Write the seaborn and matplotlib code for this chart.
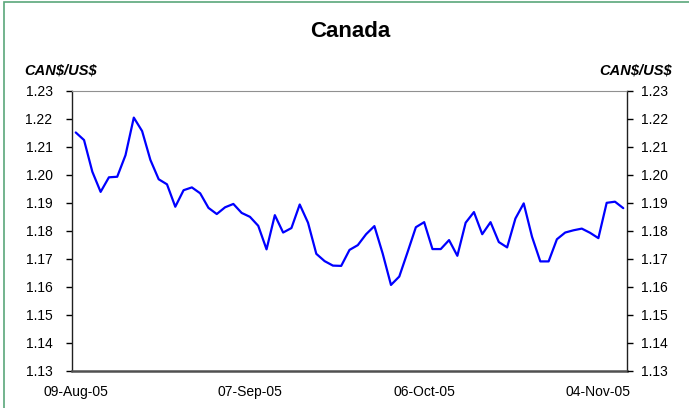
import numpy as np
import pandas as pd
import seaborn as sns
import matplotlib.pyplot as plt
from matplotlib.patches import Rectangle

# Tipo de cambio CAN$/US$, dias habiles 09-Aug-05 .. 09-Nov-05
valores = [1.2151, 1.2124, 1.2011, 1.1939, 1.1991, 1.1993, 1.2070, 1.2204, 1.2156, 1.2053,
           1.1984, 1.1966, 1.1886, 1.1945, 1.1955, 1.1934, 1.1882, 1.1860, 1.1884, 1.1896,
           1.1864, 1.1850, 1.1818, 1.1734, 1.1856, 1.1794, 1.1810, 1.1894, 1.1829, 1.1718,
           1.1692, 1.1676, 1.1675, 1.1732, 1.1749, 1.1788, 1.1817, 1.1719, 1.1607, 1.1637,
           1.1724, 1.1813, 1.1831, 1.1735, 1.1735, 1.1767, 1.1711, 1.1829, 1.1867, 1.1788,
           1.1831, 1.1760, 1.1741, 1.1844, 1.1898, 1.1779, 1.1691, 1.1691, 1.1770, 1.1794,
           1.1802, 1.1808, 1.1793, 1.1774, 1.1900, 1.1904, 1.1881]
fechas = pd.bdate_range("2005-08-09", periods=len(valores))
etiquetas_x = ["09-Aug-05", "07-Sep-05", "06-Oct-05", "04-Nov-05"]
ticks_y = [1.13, 1.14, 1.15, 1.16, 1.17, 1.18, 1.19, 1.20, 1.21, 1.22, 1.23]

dados = pd.DataFrame({"idx": np.arange(len(valores)), "fecha": fechas, "valor": valores})
pos_x = [dados.index[dados["fecha"] == pd.Timestamp(e)][0] for e in
         ["2005-08-09", "2005-09-07", "2005-10-06", "2005-11-04"]]

sns.set_style("white")
plt.rcParams['font.family'] = ['Liberation Sans', 'DejaVu Sans']
plt.rcParams['text.color'] = 'black'

fig = plt.figure(figsize=(6.89, 4.08), dpi=100)
ax = fig.add_axes([72 / 689, 1 - 371 / 408, (627 - 72) / 689, (371 - 90.7) / 408])

sns.lineplot(data=dados, x="idx", y="valor", color="#0000ff", linewidth=1.6, ax=ax)

ax.set_xlim(-0.45, 66.45)
ax.set_ylim(1.13, 1.23)
ax.set_xticks(pos_x)
ax.set_xticklabels(etiquetas_x)
ax.set_yticks(ticks_y)
ax.set_yticklabels([f"{t:.2f}" for t in ticks_y])
ax.set_xlabel("")
ax.set_ylabel("")

ax.tick_params(axis="x", length=0, pad=10, labelsize=10, colors="black")
ax.tick_params(axis="y", direction="out", length=4, width=1, pad=10, labelsize=10,
               left=True, colors="black")

for lado in ["left", "right"]:
    ax.spines[lado].set_color("#202020")
    ax.spines[lado].set_linewidth(1.0)
ax.spines["bottom"].set_color("#505050")
ax.spines["bottom"].set_linewidth(1.8)
ax.spines["top"].set_color("#909090")
ax.spines["top"].set_linewidth(0.8)

# eixo da direita
ax2 = ax.twinx()
ax2.set_ylim(1.13, 1.23)
ax2.set_yticks(ticks_y)
ax2.set_yticklabels([f"{t:.2f}" for t in ticks_y])
ax2.tick_params(axis="y", direction="out", length=4, width=1, pad=6, labelsize=10,
                right=True, colors="black")
for s in ax2.spines.values():
    s.set_visible(False)

fig.text(0.508, 0.922, "Canada", ha="center", va="center", fontsize=16, fontweight="bold",
         color="black")
fig.text(24 / 689, 1 - 70 / 408, r"CAN\$/US\$", ha="left", va="center", fontsize=10.5,
         fontweight="bold", fontstyle="italic", color="black")
fig.text(672 / 689, 1 - 70 / 408, r"CAN\$/US\$", ha="right", va="center", fontsize=10.5,
         fontweight="bold", fontstyle="italic", color="black")

# moldura verde
fig.patches.append(Rectangle((3.5 / 689, -0.05), 1.1, 1 - 2 / 408 + 0.05,
                             transform=fig.transFigure, fill=False,
                             edgecolor="#5aa77a", linewidth=1.2))

fig.savefig("out.png", dpi=100)
